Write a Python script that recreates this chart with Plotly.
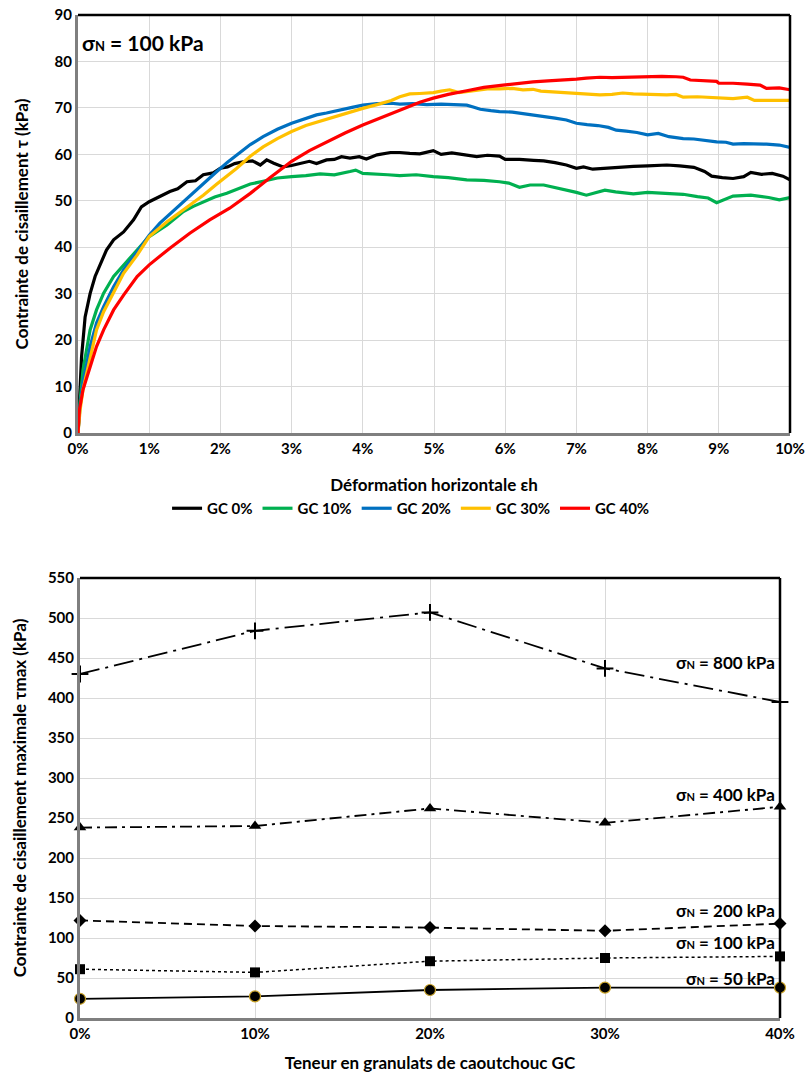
import plotly.graph_objects as go

# ---------------- Top chart data (sigma_N = 100 kPa) ----------------
gc0_x = [0, 0.02, 0.05, 0.1, 0.17, 0.24, 0.31, 0.4, 0.5, 0.64, 0.78, 0.89, 1.0, 1.15, 1.29, 1.4, 1.53, 1.65, 1.76, 1.9,
         2.0, 2.1, 2.2, 2.32, 2.45, 2.56, 2.65, 2.75, 2.88, 3.0, 3.12, 3.25, 3.35, 3.49, 3.6, 3.7, 3.82, 3.95, 4.05, 4.2,
         4.39, 4.52, 4.66, 4.8, 4.99, 5.1, 5.25, 5.46, 5.6, 5.75, 5.92, 6.0, 6.2, 6.4, 6.54, 6.7, 6.86, 7.0, 7.1, 7.23,
         7.4, 7.6, 7.8, 8.0, 8.27, 8.45, 8.65, 8.8, 8.9, 9.05, 9.2, 9.35, 9.45, 9.6, 9.75, 9.9, 10.0]
gc0_y = [0, 8, 16.4, 25, 30, 33.7, 36.2, 39.4, 41.6, 43.3, 45.9, 48.7, 49.8, 50.9, 52.0, 52.6, 54.1, 54.3, 55.6, 56.0,
         57.0, 57.3, 58.0, 58.4, 58.6, 57.7, 58.8, 58.1, 57.3, 57.6, 58.1, 58.5, 58.0, 58.8, 58.9, 59.5, 59.2, 59.5, 59.0, 59.9,
         60.4, 60.4, 60.2, 60.1, 60.8, 60.0, 60.3, 59.9, 59.5, 59.8, 59.6, 58.9, 58.9, 58.7, 58.6, 58.2, 57.7, 57.0, 57.3, 56.8,
         57.0, 57.2, 57.4, 57.5, 57.7, 57.5, 57.2, 56.3, 55.3, 55.0, 54.8, 55.2, 56.1, 55.7, 55.9, 55.3, 54.5]

gc10_x = [0, 0.03, 0.07, 0.17, 0.26, 0.36, 0.5, 0.64, 0.83, 1.0, 1.12, 1.25, 1.37, 1.48, 1.62, 1.76, 1.92, 2.09, 2.25, 2.42,
          2.6, 2.8, 3.0, 3.2, 3.4, 3.6, 3.82, 3.9, 4.0, 4.2, 4.35, 4.52, 4.75, 4.99, 5.2, 5.46, 5.7, 5.92, 6.05, 6.2,
          6.35, 6.54, 6.7, 6.86, 7.0, 7.14, 7.25, 7.4, 7.55, 7.8, 8.0, 8.27, 8.5, 8.7, 8.85, 8.97, 9.1, 9.2, 9.45, 9.6,
          9.7, 9.85, 10.0]
gc10_y = [0, 7, 13.6, 22.2, 26.5, 30.1, 33.7, 36.2, 39.4, 42.3, 43.5, 44.8, 46.3, 47.7, 48.8, 49.8, 50.8, 51.6, 52.6, 53.6,
          54.2, 54.9, 55.2, 55.4, 55.8, 55.6, 56.3, 56.6, 55.9, 55.8, 55.6, 55.4, 55.6, 55.2, 55.0, 54.5, 54.4, 54.1, 53.8, 52.9,
          53.4, 53.4, 52.9, 52.3, 51.8, 51.2, 51.6, 52.3, 51.9, 51.5, 51.8, 51.6, 51.4, 50.9, 50.6, 49.6, 50.3, 51.0, 51.2, 51.0,
          50.7, 50.2, 50.7]

gc20_x = [0, 0.03, 0.07, 0.17, 0.26, 0.36, 0.5, 0.64, 0.83, 1.0, 1.15, 1.25, 1.37, 1.48, 1.62, 1.76, 1.95, 2.1, 2.25, 2.42,
          2.6, 2.8, 3.0, 3.2, 3.35, 3.49, 3.7, 3.85, 4.0, 4.2, 4.4, 4.52, 4.7, 4.9, 5.1, 5.3, 5.46, 5.55, 5.65, 5.8,
          5.92, 6.1, 6.25, 6.39, 6.55, 6.7, 6.86, 7.0, 7.15, 7.3, 7.45, 7.56, 7.7, 7.85, 8.0, 8.15, 8.3, 8.5, 8.65, 8.8,
          8.97, 9.1, 9.2, 9.35, 9.5, 9.67, 9.85, 10.0]
gc20_y = [0, 6, 10.8, 18.6, 23.7, 27.2, 31.5, 35.1, 39.0, 42.6, 45.2, 46.6, 48.3, 49.8, 51.8, 53.8, 56.3, 58.3, 60.1, 62.1,
          63.8, 65.4, 66.7, 67.8, 68.5, 68.9, 69.5, 70.1, 70.6, 70.9, 71.0, 70.8, 70.9, 70.7, 70.8, 70.7, 70.6, 70.2, 69.7, 69.4,
          69.2, 69.1, 68.8, 68.5, 68.1, 67.8, 67.4, 66.7, 66.4, 66.2, 65.8, 65.2, 65.0, 64.7, 64.2, 64.5, 63.8, 63.4, 63.3, 63.0,
          62.7, 62.6, 62.2, 62.3, 62.3, 62.2, 62.0, 61.5]

gc30_x = [0, 0.03, 0.07, 0.17, 0.26, 0.36, 0.5, 0.64, 0.83, 1.0, 1.25, 1.48, 1.76, 1.95, 2.1, 2.23, 2.42, 2.6, 2.8, 3.0,
          3.2, 3.49, 3.7, 4.0, 4.2, 4.4, 4.52, 4.66, 4.8, 4.99, 5.1, 5.22, 5.35, 5.46, 5.6, 5.75, 5.92, 6.1, 6.25, 6.39,
          6.5, 6.62, 6.86, 7.0, 7.15, 7.33, 7.5, 7.65, 7.8, 8.0, 8.27, 8.4, 8.5, 8.7, 8.97, 9.2, 9.4, 9.5, 9.75, 10.0]
gc30_y = [0, 5, 9.3, 16.4, 22.2, 26.1, 30.4, 34.4, 38.3, 42.3, 45.5, 48.0, 51.2, 53.6, 55.4, 57.0, 59.6, 61.6, 63.4, 64.9,
          66.2, 67.6, 68.6, 69.9, 70.7, 71.6, 72.4, 73.0, 73.1, 73.3, 73.6, 73.9, 73.3, 73.5, 73.8, 74.1, 74.1, 74.2, 73.9, 74.0,
          73.6, 73.5, 73.3, 73.1, 73.0, 72.8, 72.9, 73.2, 73.0, 72.9, 72.8, 72.9, 72.3, 72.4, 72.1, 72.0, 72.3, 71.6, 71.6, 71.6]

gc40_x = [0, 0.02, 0.07, 0.17, 0.26, 0.36, 0.5, 0.64, 0.83, 1.0, 1.29, 1.57, 1.85, 2.13, 2.42, 2.7, 3.0, 3.25, 3.49, 3.75,
          4.0, 4.3, 4.52, 4.66, 4.8, 4.99, 5.2, 5.46, 5.7, 5.97, 6.2, 6.39, 6.6, 6.86, 7.0, 7.14, 7.33, 7.5, 7.7, 7.99,
          8.2, 8.4, 8.5, 8.6, 8.8, 8.97, 9.0, 9.2, 9.4, 9.58, 9.67, 9.85, 10.0]
gc40_y = [0, 5, 9.3, 14.3, 18.6, 22.2, 26.5, 29.7, 33.7, 36.2, 39.8, 43.0, 45.9, 48.4, 51.6, 55.0, 58.5, 60.8, 62.7, 64.6,
          66.3, 68.1, 69.4, 70.3, 71.2, 72.1, 72.9, 73.7, 74.4, 74.9, 75.3, 75.6, 75.8, 76.0, 76.2, 76.4, 76.6, 76.5, 76.6, 76.7,
          76.8, 76.7, 76.6, 76.0, 75.9, 75.7, 75.3, 75.3, 75.1, 74.9, 74.2, 74.3, 73.9]

top_names = ["GC 0%", "GC 10%", "GC 20%", "GC 30%", "GC 40%"]
top_colors = ["#000000", "#00b050", "#0070c0", "#ffc000", "#ff0000"]

# ---------------- Bottom chart data ----------------
gc_content = ["0%", "10%", "20%", "30%", "40%"]
gc_pos = [0, 10, 20, 30, 40]
tau_800 = [430, 484, 507, 437, 395]
tau_400 = [238, 240, 262, 244, 264]
tau_200 = [122, 115, 113, 109, 118]
tau_100 = [61, 57, 71, 75, 77]
tau_50 = [24, 27, 35, 38, 38]
bottom_labels = ["800", "400", "200", "100", "50"]
label_y = [444, 279, 135, 94, 50]

FONT = "Lato, 'Open Sans', sans-serif"
fig = go.Figure()

top_series = [(gc0_x, gc0_y), (gc10_x, gc10_y), (gc20_x, gc20_y), (gc30_x, gc30_y), (gc40_x, gc40_y)]
for (xs, ys), name, col in zip(top_series, top_names, top_colors):
    fig.add_trace(go.Scatter(x=xs, y=ys, mode="lines", name=name,
                             line=dict(color=col, width=3.2), xaxis="x", yaxis="y"))

styles = [
    (tau_800, dict(dash="20px,6px,3px,6px", width=1.8), dict(symbol="cross-thin", size=12, color="black", line=dict(width=2, color="black"))),
    (tau_400, dict(dash="12px,5px,3px,5px", width=1.8), dict(symbol="triangle-up", size=11, color="black")),
    (tau_200, dict(dash="8px,5px", width=1.8), dict(symbol="diamond", size=10, color="black")),
    (tau_100, dict(dash="dot", width=1.5), dict(symbol="square", size=10, color="black")),
    (tau_50, dict(dash="solid", width=1.8), dict(symbol="circle", size=11, color="black", line=dict(width=1.2, color="#c9a227"))),
]
for ys, ln, mk in styles:
    fig.add_trace(go.Scatter(x=gc_pos, y=ys, mode="lines+markers", showlegend=False,
                             line=dict(color="black", **ln), marker=mk, xaxis="x2", yaxis="y2",
                             cliponaxis=False))

for lab, ly in zip(bottom_labels, label_y):
    fig.add_annotation(x=40, y=ly, xref="x2", yref="y2", xanchor="right", yanchor="middle", xshift=-3,
                       text="σ<span style='font-size:11px'>N</span> = " + lab + " kPa", showarrow=False,
                       font=dict(family=FONT, size=17, color="black", weight="bold"))

fig.add_annotation(x=0.003, y=0.935, xref="x domain", yref="y domain", xanchor="left", yanchor="middle",
                   text="σ<span style='font-size:13px'>N</span> = 100 kPa", showarrow=False,
                   font=dict(family=FONT, size=21, color="black", weight="bold"))

tickfont = dict(family=FONT, size=15, color="black", weight="bold")
titlefont = dict(family=FONT, size=17, color="black", weight="bold")
grid = "#d9d9d9"

fig.update_layout(
    width=806, height=1078, margin=dict(l=0, r=0, t=0, b=0),
    paper_bgcolor="white", plot_bgcolor="white",
    font=dict(family=FONT, color="black"),
    xaxis=dict(domain=[78/806, 790/806], range=[0, 10], dtick=1, ticksuffix="%", automargin=False,
               showgrid=True, gridcolor=grid, gridwidth=1, zeroline=False,
               showline=True, linecolor="#7f7f7f", linewidth=3, ticks="", tickfont=tickfont,
               anchor="y", title=dict(text="Déformation horizontale εh", font=titlefont, standoff=24)),
    yaxis=dict(domain=[1-433/1078, 1-15/1078], range=[0, 90], dtick=10, automargin=False,
               showgrid=True, gridcolor=grid, zeroline=False,
               showline=True, linecolor="#7f7f7f", linewidth=3, ticks="", tickfont=tickfont,
               anchor="x", title=dict(text="Contrainte de cisaillement τ (kPa)", font=titlefont, standoff=22)),
    xaxis2=dict(domain=[80/806, 780/806], range=[0, 40], tickvals=gc_pos, ticktext=gc_content, automargin=False,
                showgrid=True, gridcolor=grid, zeroline=False,
                showline=True, linecolor="#7f7f7f", linewidth=3, ticks="", tickfont=tickfont,
                anchor="y2", title=dict(text="Teneur en granulats de caoutchouc GC", font=titlefont, standoff=17)),
    yaxis2=dict(domain=[1-1018/1078, 1-578/1078], range=[0, 550], dtick=50, automargin=False,
                showgrid=True, gridcolor=grid, zeroline=False,
                showline=True, linecolor="#7f7f7f", linewidth=3, ticks="", tickfont=tickfont,
                anchor="x2", title=dict(text="Contrainte de cisaillement maximale τmax (kPa)", font=titlefont, standoff=17)),
    legend=dict(orientation="h", x=0.51, xanchor="center", y=1-492/1078, yanchor="top",
                font=dict(family=FONT, size=15, color="black", weight="bold"),
                itemwidth=30, tracegroupgap=0, bgcolor="rgba(0,0,0,0)"),
)

# top and right frame lines (black)
for xr, yr in (("x domain", "y domain"), ("x2 domain", "y2 domain")):
    fig.add_shape(type="line", xref=xr, yref=yr, x0=0, x1=1, y0=1, y1=1, line=dict(color="black", width=2.5))
    fig.add_shape(type="line", xref=xr, yref=yr, x0=1, x1=1, y0=0, y1=1, line=dict(color="black", width=2.5))

fig.write_html("out.html")
